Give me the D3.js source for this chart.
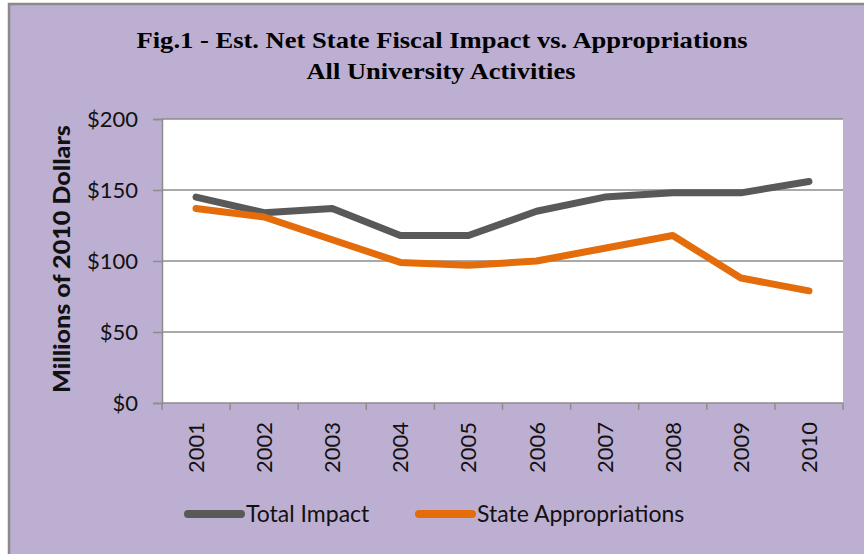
<!DOCTYPE html>
<html>
<head>
<meta charset="utf-8">
<script src="https://cdn.jsdelivr.net/npm/d3@7"></script>
<style>
	html, body { margin: 0; padding: 0; background: #ffffff; }
	svg { display: block; }
	.tick-label { font-family: Lato, 'Noto Sans', sans-serif; font-size: 22px; fill: #111; }
	.legend-label { font-family: Lato, 'Noto Sans', sans-serif; font-size: 23px; fill: #111; }
</style>
</head>
<body>
<div id="chart"></div>
<script>
// data
const years = ['2001', '2002', '2003', '2004', '2005', '2006', '2007', '2008', '2009', '2010'];
const totalImpact = [145, 134, 137, 118, 118, 135, 145, 148, 148, 156];
const stateAppropriations = [137, 131, 115, 99, 97, 100, 109, 118, 88, 79];
const yTicks = [0, 50, 100, 150, 200];
const seriesNames = ['Total Impact', 'State Appropriations'];
const seriesColors = ['#595959', '#e46c0a'];

const width = 864;
const height = 554;
const margin = { top: 119, right: 21, bottom: 151, left: 162 };

const svg = d3.select('#chart').append('svg')
	.attr('width', width)
	.attr('height', height);

//
// background and frame
//
svg.append('rect')
	.attr('x', 0).attr('y', 0)
	.attr('width', width).attr('height', height)
	.attr('fill', '#ffffff');

svg.append('rect')
	.attr('x', 9).attr('y', 4)
	.attr('width', width).attr('height', height)
	.attr('fill', '#bdafd2')
	.attr('stroke', '#8a8a8a')
	.attr('stroke-width', 2.5);

//
// title
//
svg.append('text')
	.attr('x', 442).attr('y', 48)
	.attr('text-anchor', 'middle')
	.style('font-family', "'Liberation Serif', 'Times New Roman', serif")
	.style('font-weight', 'bold')
	.style('font-size', '23px')
	.attr('textLength', 611)
	.attr('lengthAdjust', 'spacingAndGlyphs')
	.text('Fig.1 - Est. Net State Fiscal Impact vs. Appropriations');

svg.append('text')
	.attr('x', 441).attr('y', 79)
	.attr('text-anchor', 'middle')
	.style('font-family', "'Liberation Serif', 'Times New Roman', serif")
	.style('font-weight', 'bold')
	.style('font-size', '23px')
	.attr('textLength', 269)
	.attr('lengthAdjust', 'spacingAndGlyphs')
	.text('All University Activities');

//
// scales
//
const x = d3.scalePoint()
	.domain(years)
	.range([margin.left, width - margin.right])
	.padding(0.5);

const xBand = d3.scaleBand()
	.domain(years)
	.range([margin.left, width - margin.right]);

const y = d3.scaleLinear()
	.domain([0, 200])
	.range([height - margin.bottom, margin.top]);

// plot area
svg.append('rect')
	.attr('x', margin.left).attr('y', margin.top)
	.attr('width', width - margin.left - margin.right)
	.attr('height', y(0) - margin.top)
	.attr('fill', '#ffffff');

// gridlines
svg.append('g')
	.selectAll('line')
	.data(yTicks.filter(d => d > 0))
	.enter()
	.append('line')
	.attr('x1', margin.left)
	.attr('x2', width - margin.right)
	.attr('y1', d => y(d))
	.attr('y2', d => y(d))
	.attr('stroke', '#8c8c8c')
	.attr('stroke-width', 1.5);

//
// y axis
//
const yAxis = svg.append('g')
	.attr('transform', `translate(${margin.left},0)`)
	.call(d3.axisLeft(y).tickValues(yTicks).tickSize(9).tickPadding(15).tickFormat(d => '$' + d));

yAxis.select('.domain').attr('stroke', '#8c8c8c').attr('stroke-width', 1.5);
yAxis.selectAll('.tick line').attr('stroke', '#8c8c8c').attr('stroke-width', 1.5);
yAxis.selectAll('.tick text')
	.attr('class', 'tick-label')
	.attr('font-family', null)
	.attr('font-size', null)
	.attr('fill', null)
	.attr('dy', '0.36em');

svg.append('text')
	.attr('transform', `translate(70,${(margin.top + y(0)) / 2 - 2}) rotate(-90)`)
	.attr('text-anchor', 'middle')
	.style('font-family', 'Lato, sans-serif')
	.style('font-weight', '900')
	.style('font-size', '23px')
	.style('fill', '#111')
	.attr('textLength', 268)
	.attr('lengthAdjust', 'spacingAndGlyphs')
	.text('Millions of 2010 Dollars');

//
// x axis (ticks at band edges, labels at band centres)
//
const xAxisG = svg.append('g');

xAxisG.append('line')
	.attr('x1', margin.left).attr('x2', width - margin.right)
	.attr('y1', y(0)).attr('y2', y(0))
	.attr('stroke', '#8c8c8c')
	.attr('stroke-width', 1.5);

const edges = years.map(d => xBand(d)).concat([width - margin.right]);

xAxisG.selectAll('.xtick')
	.data(edges)
	.enter()
	.append('line')
	.attr('class', 'xtick')
	.attr('x1', d => d).attr('x2', d => d)
	.attr('y1', y(0)).attr('y2', y(0) + 7)
	.attr('stroke', '#8c8c8c')
	.attr('stroke-width', 1.5);

xAxisG.selectAll('.xlabel')
	.data(years)
	.enter()
	.append('text')
	.attr('class', 'tick-label')
	.attr('text-anchor', 'end')
	.attr('transform', d => `translate(${x(d) + 8},${y(0) + 19}) rotate(-90)`)
	.text(d => d);

//
// lines
//
const line = d3.line()
	.x((d, i) => x(years[i]))
	.y(d => y(d));

const series = [totalImpact, stateAppropriations];

svg.append('g')
	.selectAll('path')
	.data(series)
	.enter()
	.append('path')
	.attr('d', d => line(d))
	.attr('fill', 'none')
	.attr('stroke', (d, i) => seriesColors[i])
	.attr('stroke-width', 7)
	.attr('stroke-linejoin', 'round')
	.attr('stroke-linecap', 'round');

//
// legend
//
const legendX = [188, 419];
const legend = svg.append('g')
	.selectAll('g')
	.data(seriesNames)
	.enter()
	.append('g')
	.attr('transform', (d, i) => `translate(${legendX[i]},514)`);

legend.append('line')
	.attr('x1', 0).attr('x2', 53)
	.attr('y1', 0).attr('y2', 0)
	.attr('stroke', (d, i) => seriesColors[i])
	.attr('stroke-width', 8)
	.attr('stroke-linecap', 'round');

legend.append('text')
	.attr('class', 'legend-label')
	.attr('x', 58)
	.attr('y', 8)
	.text(d => d);
</script>
</body>
</html>
